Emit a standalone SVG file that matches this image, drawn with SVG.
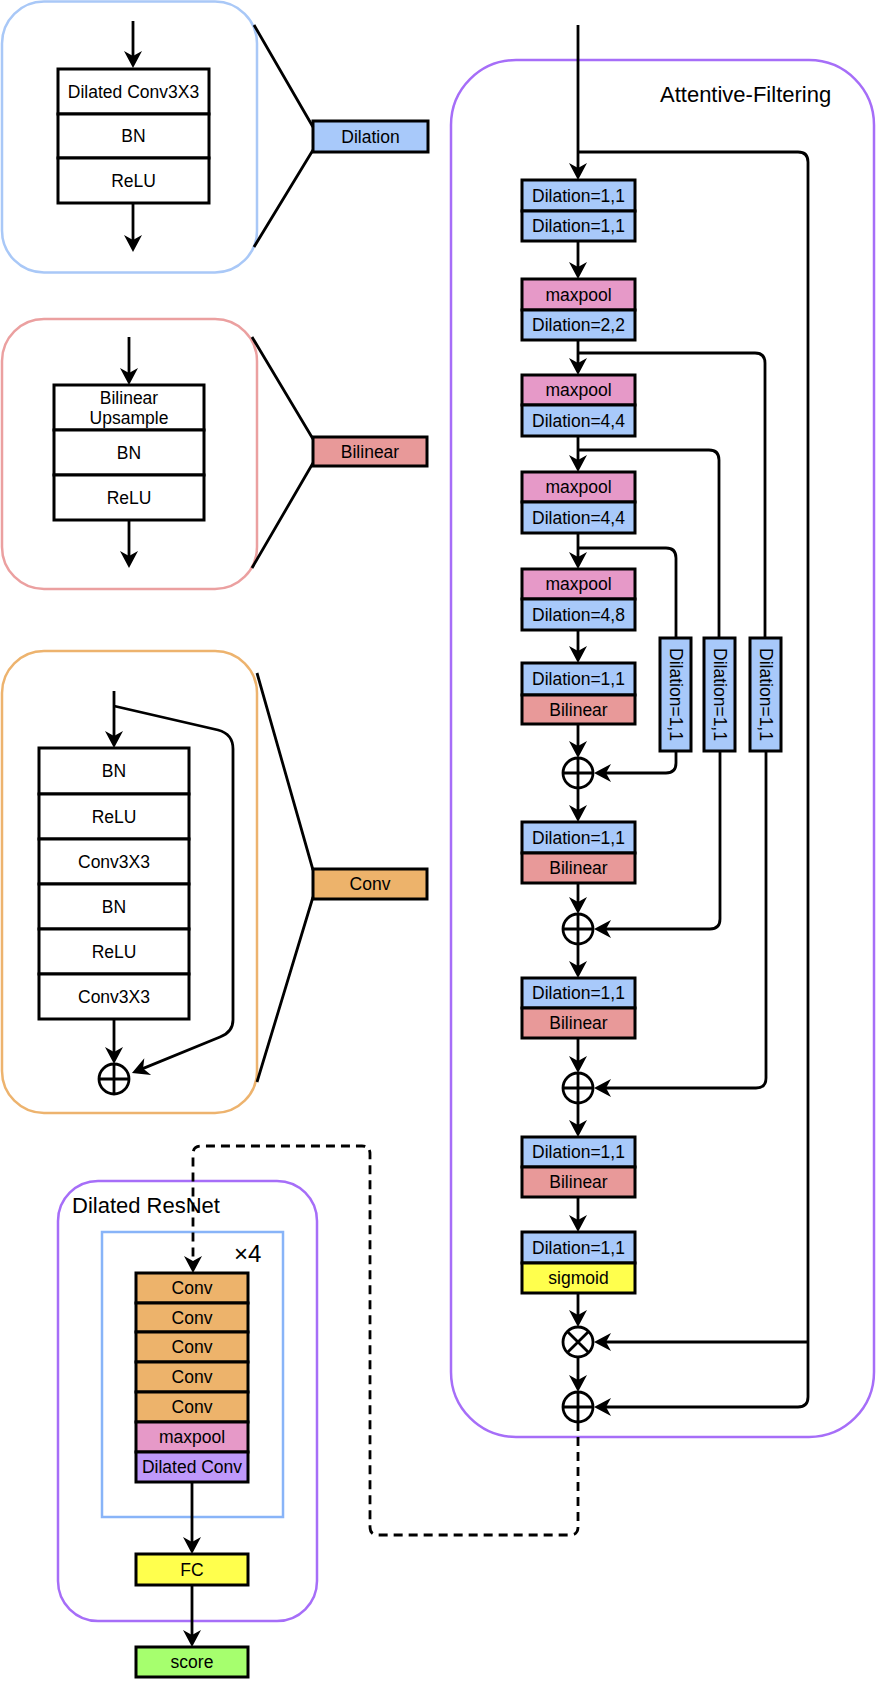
<svg xmlns="http://www.w3.org/2000/svg" width="878" height="1685" viewBox="0 0 878 1685">
<style>
text{font-family:"Liberation Sans",Arial,sans-serif;fill:#000}
.t{font-size:17.5px;text-anchor:middle}
.big{font-size:22px}
.b{stroke:#000;stroke-width:3}
.w{fill:#fff}
.dil{fill:#A8C9FA}
.mp{fill:#E699C8}
.bil{fill:#E89999}
.sig{fill:#FFFF4D}
.cv{fill:#EDB36B}
.dc{fill:#BF99FA}
.sc{fill:#A6FF6E}
.ln{fill:none;stroke:#000;stroke-width:2.8}
.ar{fill:none;stroke:#000;stroke-width:2.8;marker-end:url(#ah)}
.circ{fill:#fff;stroke:#000;stroke-width:2.8}
.panel{fill:none;stroke-width:2.5}
</style>
<defs>
<marker id="ah" viewBox="-20 -11 22 22" markerWidth="22" markerHeight="22" refX="-5" refY="0" orient="auto" markerUnits="userSpaceOnUse">
<path d="M0,0 L-17,-9 L-12,0 L-17,9 Z" fill="#000"/>
</marker>
</defs>

<!-- Panel 1: Dilation -->
<g id="panel-dilation">
<rect class="panel" x="2" y="1.5" width="255" height="271" rx="42" stroke="#A9C8F7"/>
<rect class="b w" x="58" y="69" width="151" height="45"/>
<rect class="b w" x="58" y="114" width="151" height="44"/>
<rect class="b w" x="58" y="158" width="151" height="45"/>
<text class="t" x="133.5" y="97.5">Dilated Conv3X3</text>
<text class="t" x="133.5" y="142">BN</text>
<text class="t" x="133.5" y="186.5">ReLU</text>
</g>
<g id="node-dilation">
<rect class="b dil" x="313" y="121" width="115" height="31"/>
<text class="t" x="370.5" y="142.5">Dilation</text>
</g>

<!-- Panel 2: Bilinear -->
<g id="panel-bilinear">
<rect class="panel" x="2" y="319" width="255" height="270" rx="42" stroke="#EBA0A0"/>
<rect class="b w" x="54" y="385" width="150" height="45"/>
<rect class="b w" x="54" y="430" width="150" height="45"/>
<rect class="b w" x="54" y="475" width="150" height="45"/>
<text class="t" x="129" y="404">Bilinear</text>
<text class="t" x="129" y="424">Upsample</text>
<text class="t" x="129" y="458.5">BN</text>
<text class="t" x="129" y="503.5">ReLU</text>
</g>
<g id="node-bilinear">
<rect class="b bil" x="313" y="437" width="114" height="29"/>
<text class="t" x="370" y="457.5">Bilinear</text>
</g>

<!-- Panel 3: Conv -->
<g id="panel-conv">
<rect class="panel" x="2" y="651" width="255" height="462" rx="42" stroke="#EDB36E"/>
<rect class="b w" x="39" y="748" width="150" height="46"/>
<rect class="b w" x="39" y="794" width="150" height="45"/>
<rect class="b w" x="39" y="839" width="150" height="45"/>
<rect class="b w" x="39" y="884" width="150" height="45"/>
<rect class="b w" x="39" y="929" width="150" height="45"/>
<rect class="b w" x="39" y="974" width="150" height="45"/>
<text class="t" x="114" y="777">BN</text>
<text class="t" x="114" y="822.5">ReLU</text>
<text class="t" x="114" y="867.5">Conv3X3</text>
<text class="t" x="114" y="912.5">BN</text>
<text class="t" x="114" y="957.5">ReLU</text>
<text class="t" x="114" y="1002.5">Conv3X3</text>
</g>
<g id="panel-conv-sum">
<circle class="circ" cx="114" cy="1079" r="15"/>
<path class="ln" d="M99,1079 H129 M114,1064 V1094"/>
</g>
<g id="node-conv">
<rect class="b cv" x="313" y="869" width="114" height="30"/>
<text class="t" x="370" y="890">Conv</text>
</g>

<!-- Attentive-Filtering -->
<g id="attentive-filtering">
<rect class="panel" x="451" y="60" width="423" height="1377" rx="65" stroke="#A66EF8" stroke-width="3"/>
<text class="big" x="660" y="102">Attentive-Filtering</text>
</g>
<g id="af-box1">
<rect class="b dil" x="522" y="180" width="113" height="31"/>
<rect class="b dil" x="522" y="211" width="113" height="30"/>
<text class="t" x="578.5" y="201.5">Dilation=1,1</text>
<text class="t" x="578.5" y="232">Dilation=1,1</text>
</g>
<g id="af-box2">
<rect class="b mp" x="522" y="279" width="113" height="31"/>
<rect class="b dil" x="522" y="310" width="113" height="30"/>
<text class="t" x="578.5" y="300.5">maxpool</text>
<text class="t" x="578.5" y="331">Dilation=2,2</text>
</g>
<g id="af-box3">
<rect class="b mp" x="522" y="375" width="113" height="30"/>
<rect class="b dil" x="522" y="405" width="113" height="31"/>
<text class="t" x="578.5" y="396">maxpool</text>
<text class="t" x="578.5" y="426.5">Dilation=4,4</text>
</g>
<g id="af-box4">
<rect class="b mp" x="522" y="472" width="113" height="30"/>
<rect class="b dil" x="522" y="502" width="113" height="31"/>
<text class="t" x="578.5" y="493">maxpool</text>
<text class="t" x="578.5" y="523.5">Dilation=4,4</text>
</g>
<g id="af-box5">
<rect class="b mp" x="522" y="569" width="113" height="30"/>
<rect class="b dil" x="522" y="599" width="113" height="31"/>
<text class="t" x="578.5" y="590">maxpool</text>
<text class="t" x="578.5" y="620.5">Dilation=4,8</text>
</g>
<g id="af-box6">
<rect class="b dil" x="522" y="663" width="113" height="32"/>
<rect class="b bil" x="522" y="695" width="113" height="29"/>
<text class="t" x="578.5" y="685">Dilation=1,1</text>
<text class="t" x="578.5" y="715.5">Bilinear</text>
</g>
<g id="af-box7">
<rect class="b dil" x="522" y="822" width="113" height="31"/>
<rect class="b bil" x="522" y="853" width="113" height="30"/>
<text class="t" x="578.5" y="843.5">Dilation=1,1</text>
<text class="t" x="578.5" y="874">Bilinear</text>
</g>
<g id="af-box8">
<rect class="b dil" x="522" y="978" width="113" height="30"/>
<rect class="b bil" x="522" y="1008" width="113" height="30"/>
<text class="t" x="578.5" y="999">Dilation=1,1</text>
<text class="t" x="578.5" y="1029">Bilinear</text>
</g>
<g id="af-box9">
<rect class="b dil" x="522" y="1137" width="113" height="30"/>
<rect class="b bil" x="522" y="1167" width="113" height="30"/>
<text class="t" x="578.5" y="1158">Dilation=1,1</text>
<text class="t" x="578.5" y="1188">Bilinear</text>
</g>
<g id="af-box10">
<rect class="b dil" x="522" y="1232" width="113" height="31"/>
<rect class="b sig" x="522" y="1263" width="113" height="30"/>
<text class="t" x="578.5" y="1253.5">Dilation=1,1</text>
<text class="t" x="578.5" y="1284">sigmoid</text>
</g>
<g id="af-side1">
<rect class="b dil" x="660" y="638" width="31" height="113"/>
<text class="t" transform="translate(675.5,694.5) rotate(90)" y="6">Dilation=1,1</text>
</g>
<g id="af-side2">
<rect class="b dil" x="704" y="638" width="31" height="113"/>
<text class="t" transform="translate(719.5,694.5) rotate(90)" y="6">Dilation=1,1</text>
</g>
<g id="af-side3">
<rect class="b dil" x="750" y="638" width="31" height="113"/>
<text class="t" transform="translate(765.5,694.5) rotate(90)" y="6">Dilation=1,1</text>
</g>
<g id="af-sum1">
<circle class="circ" cx="578" cy="773" r="15"/>
<path class="ln" d="M563,773 H593 M578,758 V788"/>
</g>
<g id="af-sum2">
<circle class="circ" cx="578" cy="929" r="15"/>
<path class="ln" d="M563,929 H593 M578,914 V944"/>
</g>
<g id="af-sum3">
<circle class="circ" cx="578" cy="1088" r="15"/>
<path class="ln" d="M563,1088 H593 M578,1073 V1103"/>
</g>
<g id="af-mul">
<circle class="circ" cx="578" cy="1342" r="15"/>
<path class="ln" d="M567.4,1331.4 L588.6,1352.6 M588.6,1331.4 L567.4,1352.6"/>
</g>
<g id="af-sum4">
<circle class="circ" cx="578" cy="1407" r="15"/>
<path class="ln" d="M563,1407 H593 M578,1392 V1422"/>
</g>

<!-- Dilated ResNet -->
<g id="dilated-resnet">
<rect class="panel" x="58" y="1181" width="259" height="440" rx="40" stroke="#A66EF8" stroke-width="3"/>
<text class="big" x="72" y="1213">Dilated ResNet</text>
</g>
<g id="repeat-block">
<rect class="panel" x="102" y="1232" width="181" height="285" stroke="#88B4F8"/>
<text class="big" x="234" y="1262" style="font-size:24px">×4</text>
</g>
<g id="resnet-stack">
<rect class="b cv" x="136" y="1273" width="112" height="30"/>
<rect class="b cv" x="136" y="1303" width="112" height="29"/>
<rect class="b cv" x="136" y="1332" width="112" height="30"/>
<rect class="b cv" x="136" y="1362" width="112" height="30"/>
<rect class="b cv" x="136" y="1392" width="112" height="30"/>
<rect class="b mp" x="136" y="1422" width="112" height="30"/>
<rect class="b dc" x="136" y="1452" width="112" height="30"/>
<text class="t" x="192" y="1294">Conv</text>
<text class="t" x="192" y="1323.5">Conv</text>
<text class="t" x="192" y="1353">Conv</text>
<text class="t" x="192" y="1383">Conv</text>
<text class="t" x="192" y="1413">Conv</text>
<text class="t" x="192" y="1443">maxpool</text>
<text class="t" x="192" y="1473">Dilated Conv</text>
</g>
<g id="fc">
<rect class="b sig" x="136" y="1554" width="112" height="31"/>
<text class="t" x="192" y="1575.5">FC</text>
</g>
<g id="score">
<rect class="b sc" x="136" y="1647" width="112" height="30"/>
<text class="t" x="192" y="1668">score</text>
</g>

<!-- Connectors -->
<g id="connectors">
<path class="ar" d="M133,21 V63"/>
<path class="ar" d="M133,203 V247"/>
<path class="ln" d="M254,25 L313,127 M313,150 L254,247"/>
<path class="ar" d="M129,337 V380"/>
<path class="ar" d="M129,520 V563"/>
<path class="ln" d="M252,337 L313,439 M313,463 L252,568"/>
<path class="ar" d="M114,691 V743"/>
<path class="ar" d="M114,1019 V1059"/>
<path class="ar" d="M114,706 L218,730 Q233,734 233,749 V1020 Q233,1032 220,1037 L136.6,1071.1"/>
<path class="ln" d="M257,673 L313,870 M313,897 L257,1082"/>

<path class="ar" d="M578,25 V175"/>
<path class="ar" d="M578,241 V274"/>
<path class="ar" d="M578,340 V370"/>
<path class="ar" d="M578,436 V467"/>
<path class="ar" d="M578,533 V564"/>
<path class="ar" d="M578,630 V658"/>
<path class="ar" d="M578,724 V753"/>
<path class="ar" d="M578,788 V817"/>
<path class="ar" d="M578,883 V909"/>
<path class="ar" d="M578,944 V973"/>
<path class="ar" d="M578,1038 V1068"/>
<path class="ar" d="M578,1103 V1132"/>
<path class="ar" d="M578,1197 V1227"/>
<path class="ar" d="M578,1293 V1322"/>
<path class="ar" d="M578,1357 V1387"/>

<path class="ar" d="M578,152 H798 Q808,152 808,162 V1397 Q808,1407 798,1407 H599"/>
<path class="ar" d="M808,1342 H599"/>
<path class="ln" d="M578,353 H755 Q765,353 765,363 V638"/>
<path class="ln" d="M578,450 H709 Q719,450 719,460 V638"/>
<path class="ln" d="M578,548 H666 Q676,548 676,558 V638"/>
<path class="ar" d="M676,751 V763 Q676,773 666,773 H599"/>
<path class="ar" d="M720,751 V919 Q720,929 710,929 H599"/>
<path class="ar" d="M766,751 V1078 Q766,1088 756,1088 H599"/>

<path class="ar" d="M192,1482 V1549"/>
<path class="ar" d="M192,1585 V1642"/>
<path class="ar" stroke-dasharray="9 6" d="M578,1422 V1527 Q578,1535 570,1535 H378 Q370,1535 370,1527 V1154 Q370,1146 362,1146 H201 Q193,1146 193,1154 V1268"/>
</g>
</svg>
